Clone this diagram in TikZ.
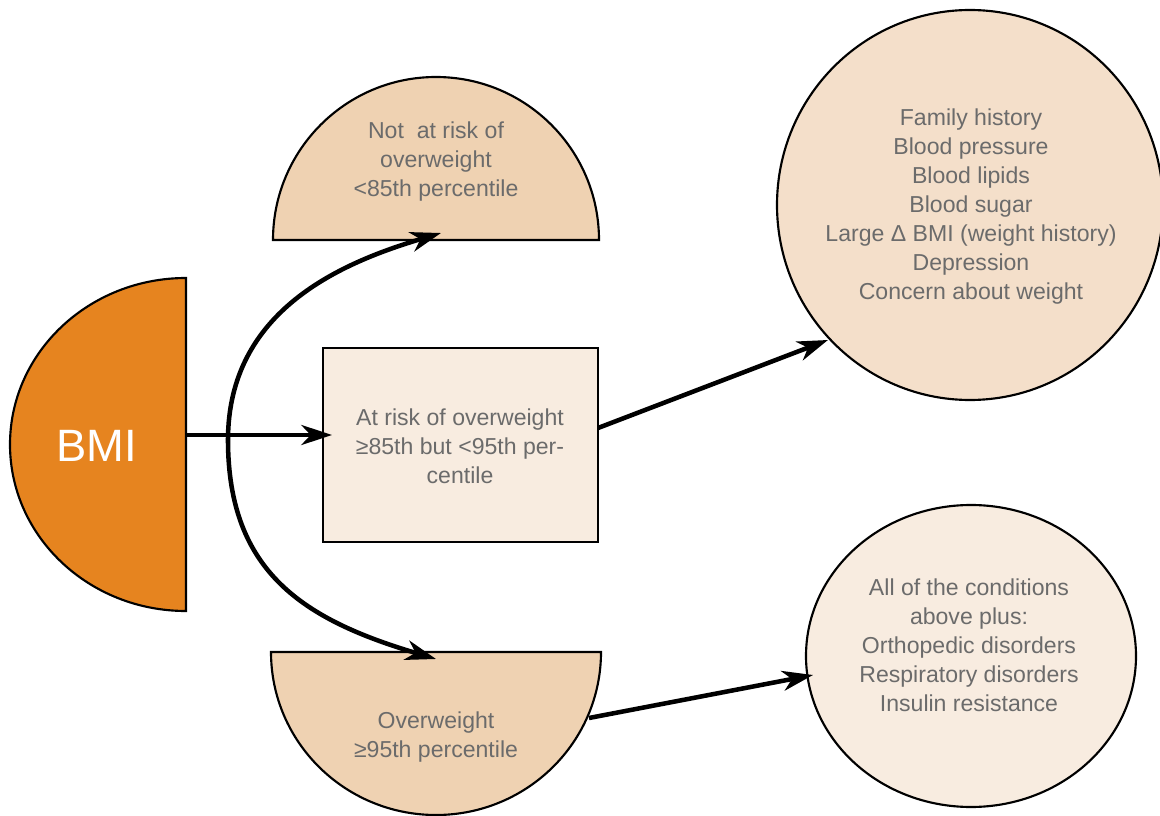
\documentclass[tikz,border=0pt]{standalone}
\usepackage{fontspec}
\setmainfont{Liberation Sans}
\usetikzlibrary{arrows.meta}
\definecolor{bmiorange}{HTML}{E6841F}
\definecolor{tanfill}{HTML}{EFD2B2}
\definecolor{peachfill}{HTML}{F4DFCA}
\definecolor{creamfill}{HTML}{F8ECE0}
\definecolor{txtgray}{HTML}{6B6B6B}
\begin{document}
\begin{tikzpicture}[x=0.75pt,y=-0.75pt,
  shapeline/.style={draw=black, line width=1.6pt},
  lbl/.style={text=txtgray, font=\fontsize{17.3}{21.75}\selectfont, align=center, inner sep=0pt},
  conn/.style={line width=3.4pt, -{Stealth[length=23pt,width=15pt,inset=7pt]}},
  dconn/.style={line width=3.4pt, {Stealth[length=23pt,width=15pt,inset=7pt]}-{Stealth[length=23pt,width=15pt,inset=7pt]}}]
\useasboundingbox (0,0) rectangle (1160,816);

% BMI half disc
\draw[shapeline, fill=bmiorange] (186,278) arc[start angle=-90, end angle=-270, x radius=176, y radius=166.5] -- cycle;
\node[text=white, font=\fontsize{34}{40}\selectfont, inner sep=0pt] (bmi) at (97,446) {BMI};

% top semicircle
\draw[shapeline, fill=tanfill] (599,240) arc[start angle=0, end angle=-180, x radius=163, y radius=163] -- cycle;
\node[lbl] (nrisk) at (436,162) {Not\ \ at risk of\\overweight\\<85th percentile};

% bottom semicircle
\draw[shapeline, fill=tanfill] (601,652) arc[start angle=0, end angle=180, x radius=165, y radius=163] -- cycle;
\node[lbl] (ow) at (436,737) {Overweight\\≥95th percentile};

% rectangle
\draw[shapeline, fill=creamfill] (323,348) rectangle (598,542);
\node[lbl] (risk) at (460,446) {At risk of overweight\\≥85th but <95th per-\\centile};

% big circle
\draw[shapeline, fill=peachfill] (970,205) circle[x radius=193, y radius=195];
\node[lbl] (factors) at (971,207) {Family history\\Blood pressure\\Blood lipids\\Blood sugar\\Large Δ BMI (weight history)\\Depression\\Concern about weight};

% small circle
\draw[shapeline, fill=creamfill] (971,656) circle[x radius=165, y radius=151];
\node[lbl] (conds) at (969,645) {All of the conditions\\above plus:\\Orthopedic disorders\\Respiratory disorders\\Insulin resistance};

% connector endpoints
\coordinate (bmiR) at (186,435);
\coordinate (rectL) at (332,435);
\coordinate (rectR) at (598,428);
\coordinate (bigL) at (828,340);
\coordinate (owR) at (589,718);
\coordinate (smallL) at (813,675);
\coordinate (topIn) at (441,233);
\coordinate (botIn) at (436,659);
\coordinate (curveMid) at (228,440);

\draw[conn] (bmiR) -- (rectL);
\draw[conn] (rectR) -- (bigL);
\draw[conn] (owR) -- (smallL);
\draw[dconn] (topIn) .. controls (344,262) and (228,309) .. (curveMid)
  .. controls (228,573) and (305,620) .. (botIn);
\end{tikzpicture}
\end{document}
